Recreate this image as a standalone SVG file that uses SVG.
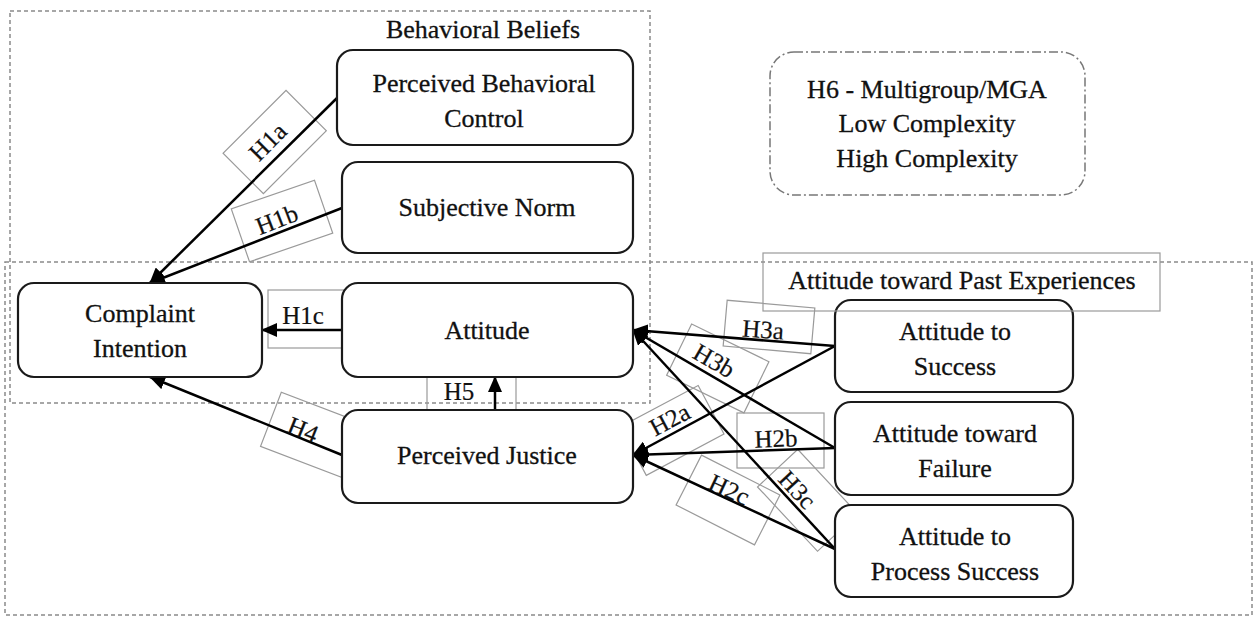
<svg xmlns="http://www.w3.org/2000/svg" width="1254" height="619" viewBox="0 0 1254 619">
<style>
.bg{fill:#ffffff}
.region{fill:none;stroke:#8a8a8a;stroke-width:1.5;stroke-dasharray:4 3}
.mga{fill:none;stroke:#777;stroke-width:1.5;stroke-dasharray:9 3 2 3}
.node{fill:#ffffff;stroke:#1a1a1a;stroke-width:2.2}
.lbox{fill:none;stroke:#9a9a9a;stroke-width:1.2}
.t{font-family:"Liberation Serif","Times New Roman",serif;font-size:26px;fill:#111;stroke:#111;stroke-width:0.3;text-anchor:middle}
.h{font-family:"Liberation Serif","Times New Roman",serif;font-size:25px;fill:#111;stroke:#111;stroke-width:0.2;text-anchor:middle}
.arr{stroke:#000;stroke-width:2.5;fill:none;marker-end:url(#ah)}
</style>
<defs>
<marker id="ah" markerUnits="userSpaceOnUse" markerWidth="16" markerHeight="14" refX="15" refY="7" orient="auto">
<path d="M0,0 L16,7 L0,14 z" fill="#000"/>
</marker>
</defs>
<rect class="bg" x="0" y="0" width="1254" height="619"/>

<g id="regions">
<rect class="region" x="10" y="11" width="640" height="392"/>
<rect class="region" x="5" y="262" width="1247" height="353"/>
</g>

<g id="label-boxes">
<rect class="lbox" x="-44" y="-28" width="89" height="57" transform="translate(274,142) rotate(-45)"/>
<rect class="lbox" x="-44" y="-28" width="88" height="56" transform="translate(282,221) rotate(-19)"/>
<rect class="lbox" x="268" y="290" width="88" height="58"/>
<rect class="lbox" x="427" y="367" width="89" height="58"/>
<rect class="lbox" x="-44" y="-29" width="88" height="58" transform="translate(312,435) rotate(21)"/>
<rect class="lbox" x="-44" y="-23" width="88" height="46" transform="translate(769,327) rotate(5)"/>
<rect class="lbox" x="-43" y="-28" width="86" height="57" transform="translate(718,368) rotate(26)"/>
<rect class="lbox" x="-44" y="-27" width="88" height="55" transform="translate(672,430) rotate(-28)"/>
<rect class="lbox" x="737" y="413" width="87" height="55"/>
<rect class="lbox" x="-44" y="-28" width="88" height="56" transform="translate(728,500) rotate(27)"/>
<rect class="lbox" x="-44" y="-27" width="88" height="55" transform="translate(808,500) rotate(47)"/>
</g>

<g id="connectors">
<line class="arr" x1="337" y1="98" x2="150" y2="283"/>
<line class="arr" x1="342" y1="208" x2="150" y2="283"/>
<line class="arr" x1="342" y1="330" x2="262" y2="330"/>
<line class="arr" x1="495" y1="410" x2="495" y2="377"/>
<line class="arr" x1="342" y1="455" x2="150" y2="377"/>
<line class="arr" x1="835" y1="346" x2="633" y2="330"/>
<line class="arr" x1="835" y1="448" x2="633" y2="330"/>
<line class="arr" x1="835" y1="549" x2="633" y2="330"/>
<line class="arr" x1="835" y1="346" x2="633" y2="455"/>
<line class="arr" x1="835" y1="448" x2="633" y2="455"/>
<line class="arr" x1="835" y1="549" x2="633" y2="455"/>
<text class="h" transform="translate(268,142) rotate(-45)" y="8">H1a</text>
<text class="h" transform="translate(277,220) rotate(-21)" y="8">H1b</text>
<text class="h" x="303" y="324">H1c</text>
<text class="h" x="459" y="400">H5</text>
<text class="h" transform="translate(303,430) rotate(22)" y="8">H4</text>
<text class="h" transform="translate(763,330) rotate(4)" y="8">H3a</text>
<text class="h" transform="translate(714,361) rotate(30)" y="8">H3b</text>
<text class="h" transform="translate(797,490) rotate(47)" y="8">H3c</text>
<text class="h" transform="translate(670,420) rotate(-28)" y="8">H2a</text>
<text class="h" transform="translate(776,439) rotate(-2)" y="8">H2b</text>
<text class="h" transform="translate(729,490) rotate(25)" y="8">H2c</text>
</g>

<g id="behavioral-beliefs-label">
<text class="t" x="483" y="38">Behavioral Beliefs</text>
</g>

<g id="pbc">
<rect class="node" x="337" y="50" width="296" height="95" rx="16"/>
<text class="t" x="484" y="92">Perceived Behavioral</text>
<text class="t" x="484" y="127">Control</text>
</g>
<g id="subjective-norm">
<rect class="node" x="342" y="162" width="291" height="91" rx="16"/>
<text class="t" x="487" y="216">Subjective Norm</text>
</g>
<g id="complaint-intention">
<rect class="node" x="18" y="283" width="244" height="94" rx="16"/>
<text class="t" x="140" y="322">Complaint</text>
<text class="t" x="140" y="357">Intention</text>
</g>
<g id="attitude">
<rect class="node" x="342" y="283" width="291" height="94" rx="16"/>
<text class="t" x="487" y="339">Attitude</text>
</g>
<g id="perceived-justice">
<rect class="node" x="342" y="410" width="291" height="93" rx="16"/>
<text class="t" x="487" y="464">Perceived Justice</text>
</g>
<g id="att-success">
<rect class="node" x="835" y="300" width="238" height="92" rx="16"/>
<text class="t" x="955" y="340">Attitude to</text>
<text class="t" x="955" y="375">Success</text>
</g>
<g id="att-failure">
<rect class="node" x="835" y="402" width="238" height="93" rx="16"/>
<text class="t" x="955" y="442">Attitude toward</text>
<text class="t" x="955" y="477">Failure</text>
</g>
<g id="att-process">
<rect class="node" x="835" y="505" width="238" height="92" rx="16"/>
<text class="t" x="955" y="545">Attitude to</text>
<text class="t" x="955" y="580">Process Success</text>
</g>

<g id="past-exp-label">
<rect class="lbox" x="763" y="253" width="397" height="58"/>
<text class="t" x="962" y="289">Attitude toward Past Experiences</text>
</g>

<g id="mga">
<rect class="mga" x="770" y="52" width="315" height="143" rx="24"/>
<text class="t" x="927" y="98">H6 - Multigroup/MGA</text>
<text class="t" x="927" y="132">Low Complexity</text>
<text class="t" x="927" y="167">High Complexity</text>
</g>
</svg>
